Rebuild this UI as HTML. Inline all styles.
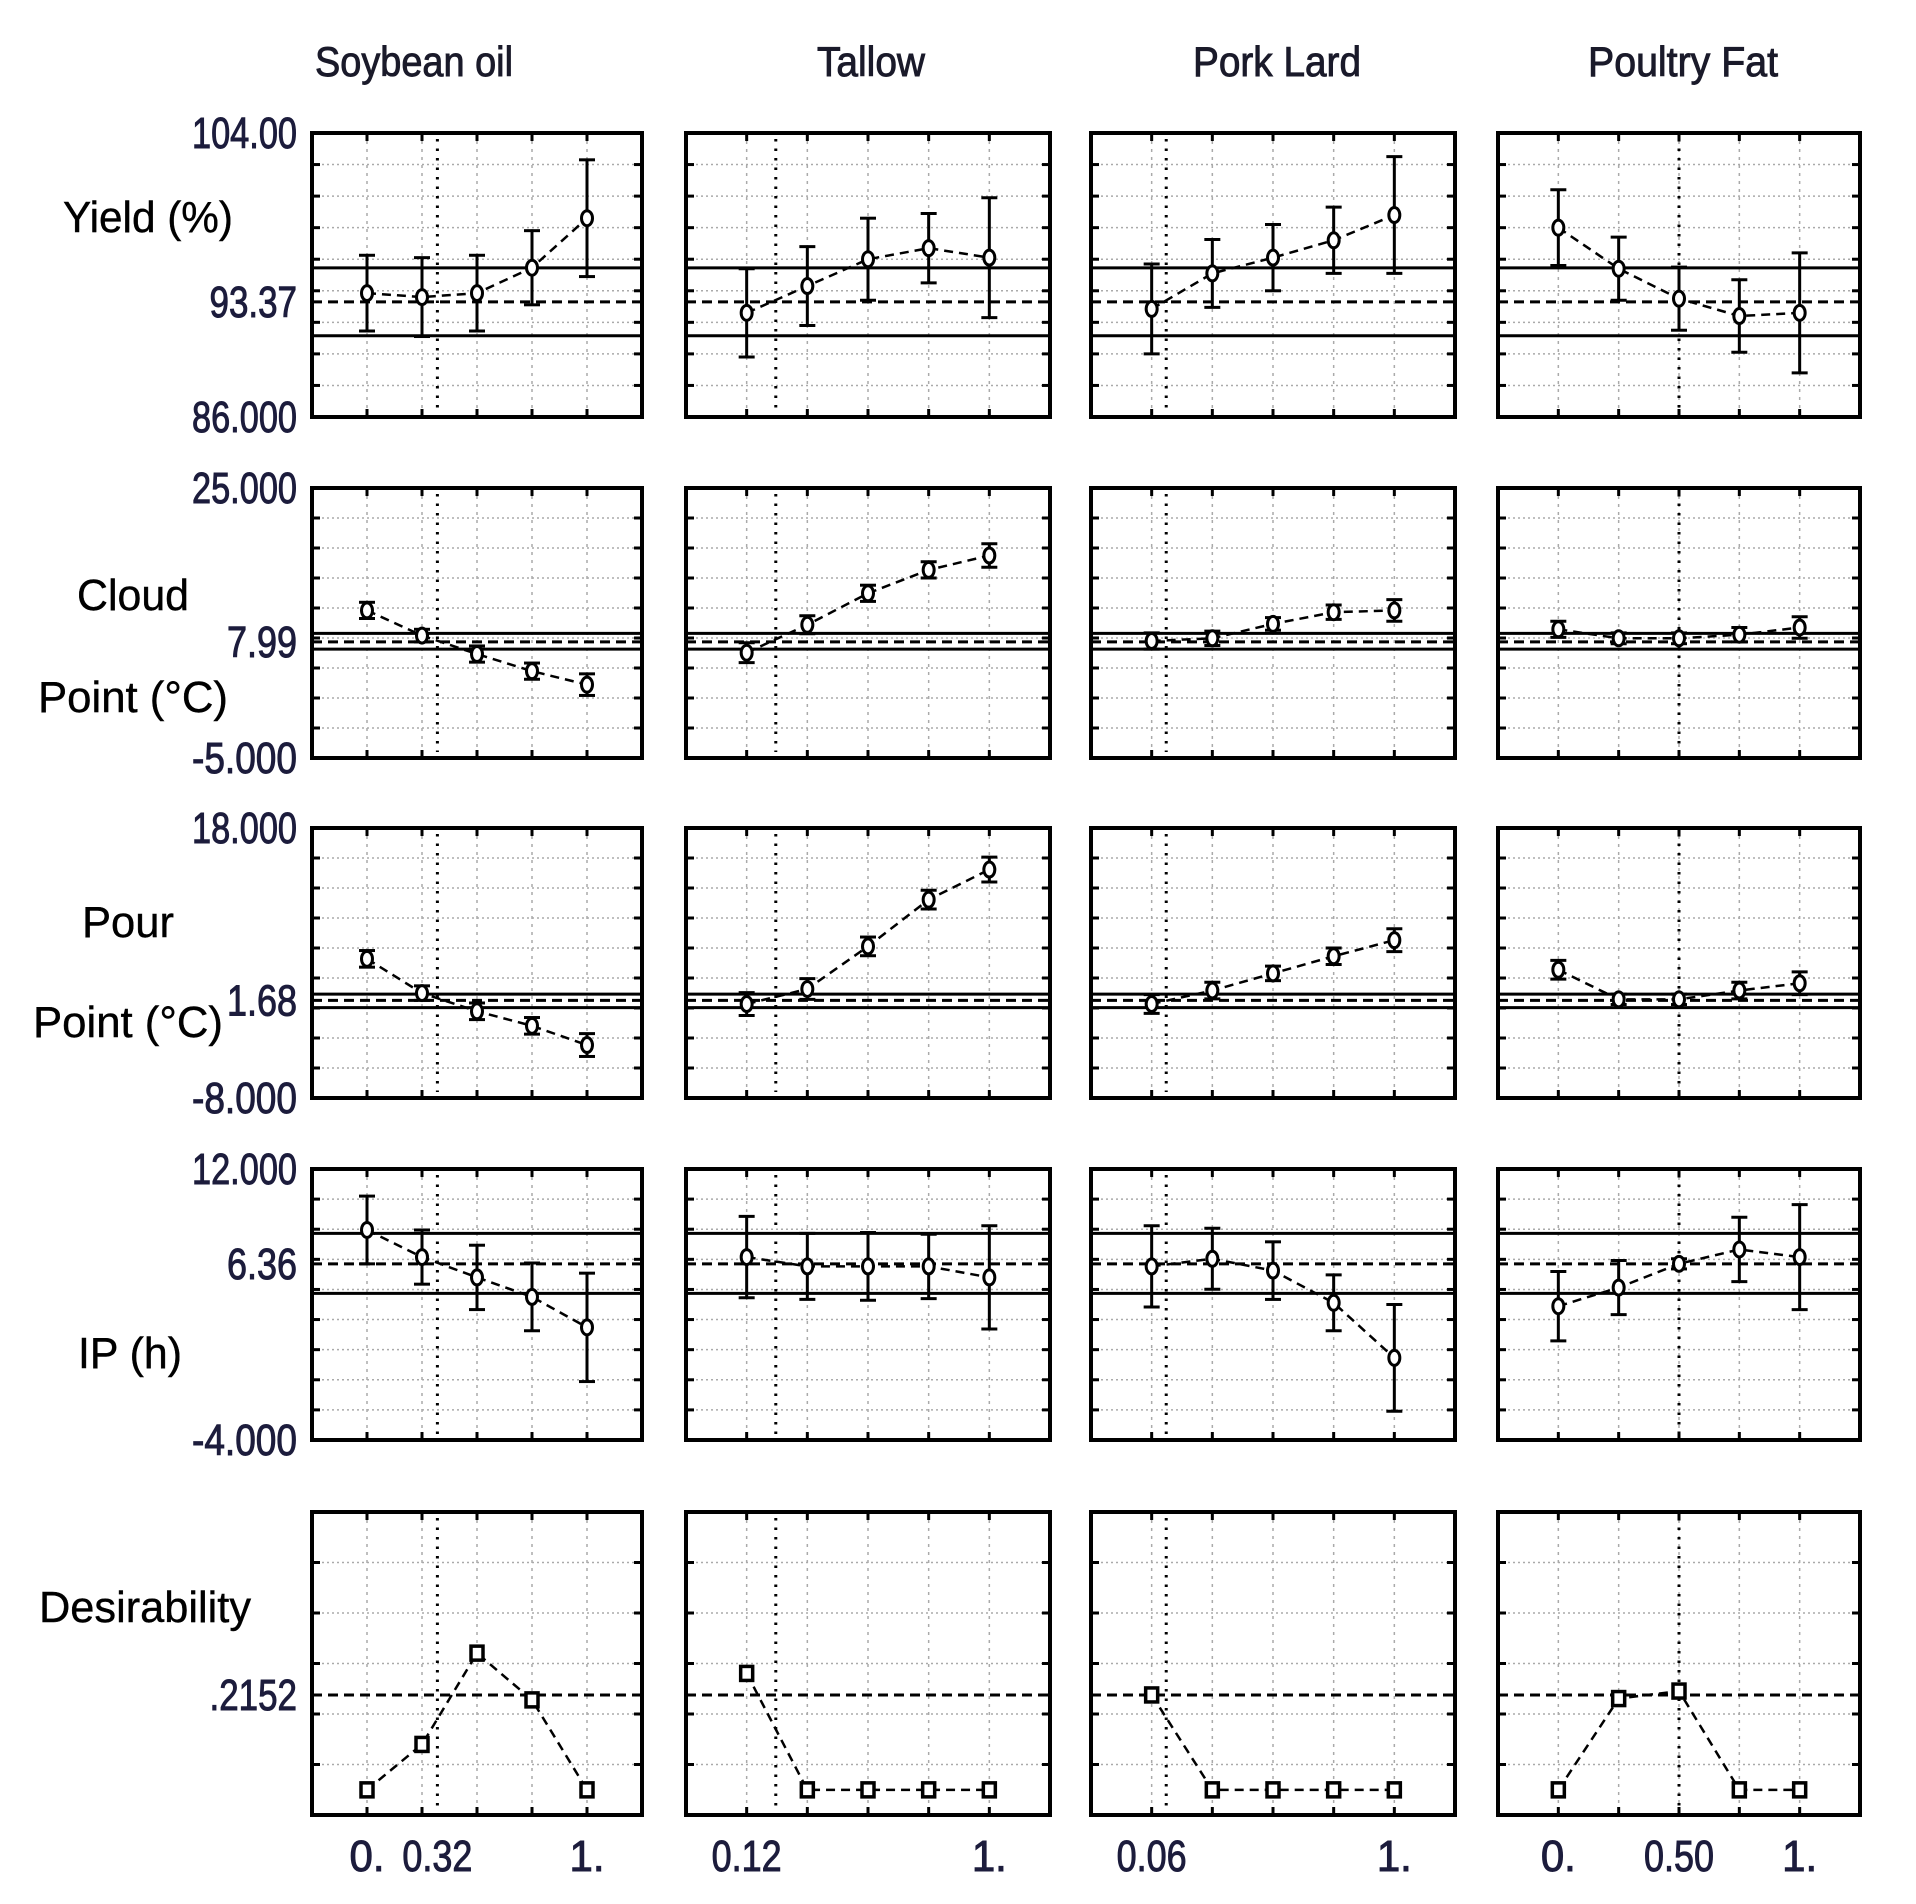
<!DOCTYPE html>
<html><head><meta charset="utf-8"><style>
html,body{margin:0;padding:0;background:#fff;}
svg{display:block;}
text{font-family:"Liberation Sans",sans-serif;}
</style></head><body>
<svg id="chart" width="1916" height="1904" viewBox="0 0 1916 1904" xmlns="http://www.w3.org/2000/svg"></svg>
<script>
// ---- data ----
const columns = ["Soybean oil","Tallow","Pork Lard","Poultry Fat"];
const rowNames = ["yield","cloud-point","pour-point","ip","desirability"];
const currentPos = [0.32,0.12,0.06,0.5];
const xLabelsSoy = ["0.","0.32","1."];
const xLabelsTallow = ["0.12","1."];
const xLabelsPork = ["0.06","1."];
const xLabelsPoultry = ["0.","0.50","1."];
// yield
const yieldDomain = [86,104];
const yieldTicks = ["104.00","93.37","86.000"];
const yieldLimits = [95.45,91.15,93.3];
const yieldSoy = [93.85,93.6,93.85,95.46,98.6];
const yieldSoyErr = [2.4,2.5,2.4,2.35,3.7];
const yieldTallow = [92.6,94.3,96.0,96.7,96.1];
const yieldTallowErr = [2.8,2.5,2.6,2.2,3.8];
const yieldPork = [92.85,95.1,96.1,97.2,98.8];
const yieldPorkErr = [2.85,2.15,2.1,2.1,3.7];
const yieldPoultry = [98.0,95.4,93.5,92.4,92.6];
const yieldPoultryErr = [2.4,2.0,2.0,2.3,3.8];
// cloud point
const cloudDomain = [-5,25];
const cloudTicks = ["25.000","7.99","-5.000"];
const cloudLimits = [8.85,7.1,7.9];
const cloudSoy = [11.4,8.6,6.55,4.65,3.15];
const cloudSoyErr = [0.9,0.7,0.9,0.9,1.2];
const cloudTallow = [6.7,9.8,13.3,15.9,17.5];
const cloudTallowErr = [1.1,1.0,0.9,0.9,1.3];
const cloudPork = [8.0,8.3,9.9,11.2,11.4];
const cloudPorkErr = [0.9,0.8,0.7,0.8,1.2];
const cloudPoultry = [9.3,8.3,8.3,8.7,9.5];
const cloudPoultryErr = [0.9,0.6,0.6,0.8,1.2];
// pour point
const pourDomain = [-8,18];
const pourTicks = ["18.000","1.68","-8.000"];
const pourLimits = [2.0,0.7,1.4];
const pourSoy = [5.4,2.1,0.35,-1.05,-2.9];
const pourSoyErr = [0.8,0.7,0.8,0.8,1.1];
const pourTallow = [1.05,2.5,6.6,11.1,14.0];
const pourTallowErr = [1.1,1.0,0.9,0.9,1.2];
const pourPork = [1.05,2.35,4.0,5.65,7.2];
const pourPorkErr = [0.9,0.8,0.7,0.8,1.1];
const pourPoultry = [4.35,1.5,1.5,2.35,3.05];
const pourPoultryErr = [0.9,0.5,0.5,0.8,1.1];
// IP
const ipDomain = [-4,12];
const ipTicks = ["12.000","6.36","-4.000"];
const ipLimits = [8.2,4.66,6.4];
const ipSoy = [8.4,6.8,5.6,4.45,2.65];
const ipSoyErr = [2.0,1.6,1.9,2.0,3.2];
const ipTallow = [6.8,6.25,6.25,6.25,5.6];
const ipTallowErr = [2.4,1.95,2.0,1.9,3.05];
const ipPork = [6.25,6.7,6.0,4.1,0.85];
const ipPorkErr = [2.4,1.8,1.7,1.65,3.15];
const ipPoultry = [3.9,5.0,6.4,7.25,6.8];
const ipPoultryErr = [2.05,1.6,0.3,1.9,3.1];
// desirability
const desDomain = [-0.057,0.63];
const desTicks = [".2152"];
const desMean = 0.2152;
const desSoy = [0,0.103,0.31,0.204,0];
const desTallow = [0.264,0,0,0,0];
const desPork = [0.2152,0,0,0,0];
const desPoultry = [0,0.207,0.224,0,0];
const levels = [0,0.25,0.5,0.75,1];

// ---- layout ----
const NS="http://www.w3.org/2000/svg";
const svg=document.getElementById('chart');
const colX=[[312,642],[686,1050],[1091,1455],[1498,1860]];
const rowY=[[133,417],[488,758],[828,1098],[1169,1440],[1512,1815]];
function mk(tag,attrs,parent){const e=document.createElementNS(NS,tag);for(const k in attrs)e.setAttribute(k,attrs[k]);(parent||svg).appendChild(e);return e;}
function xs(c,v){const [a,b]=colX[c];return a+(b-a)*(v+0.25)/1.5;}
function ysF(r,dom){const [t,b]=rowY[r];return v=>b-(b-t)*(v-dom[0])/(dom[1]-dom[0]);}

const rows=[
 {dom:yieldDomain,ticks:yieldTicks,lim:yieldLimits,vals:[yieldSoy,yieldTallow,yieldPork,yieldPoultry],errs:[yieldSoyErr,yieldTallowErr,yieldPorkErr,yieldPoultryErr]},
 {dom:cloudDomain,ticks:cloudTicks,lim:cloudLimits,vals:[cloudSoy,cloudTallow,cloudPork,cloudPoultry],errs:[cloudSoyErr,cloudTallowErr,cloudPorkErr,cloudPoultryErr]},
 {dom:pourDomain,ticks:pourTicks,lim:pourLimits,vals:[pourSoy,pourTallow,pourPork,pourPoultry],errs:[pourSoyErr,pourTallowErr,pourPorkErr,pourPoultryErr]},
 {dom:ipDomain,ticks:ipTicks,lim:ipLimits,vals:[ipSoy,ipTallow,ipPork,ipPoultry],errs:[ipSoyErr,ipTallowErr,ipPorkErr,ipPoultryErr]},
 {dom:desDomain,ticks:desTicks,lim:null,vals:[desSoy,desTallow,desPork,desPoultry],errs:null}
];

// column titles
const titleX=[414,871,1277,1683], titleW=[198,108,168,190];
columns.forEach((c,i)=>{
 const t=mk('text',{x:titleX[i],y:76,'text-anchor':'middle','font-size':42,fill:'#1a1a2a',stroke:'#1a1a2a','stroke-width':0.9,textLength:titleW[i],lengthAdjust:'spacingAndGlyphs'});
 
 
 t.textContent=c;
});
// row titles
const rowLabels=[["Yield (%)",148,232,170],["Cloud",133,610,112],["Point (°C)",133,712,190],["Pour",128,937,92],["Point (°C)",128,1037,190],["IP (h)",130,1368,104],["Desirability",145,1622,212]];
rowLabels.forEach((r,i)=>{
 const t=mk('text',{x:r[1],y:r[2],'text-anchor':'middle','font-size':44,fill:'#000',stroke:'#000','stroke-width':0.4,textLength:r[3],lengthAdjust:'spacingAndGlyphs'});
 
 
 t.textContent=r[0];
});

rows.forEach((row,r)=>{
 const Y=ysF(r,row.dom);
 const [top,bot]=rowY[r];
 const ndiv = r===4?6:9;
 let tickY, tickT;
 if(r===4){tickY=[Y(desMean)];tickT=row.ticks;}
 else{tickY=[top,Y(row.lim[2]),bot];tickT=row.ticks;}
 tickT.forEach((s,k)=>{
  const t=mk('text',{x:297,y:tickY[k]+15,'text-anchor':'end','font-size':44,fill:'#1c1c3c',stroke:'#1c1c3c','stroke-width':1,textLength:s.length*17.5,lengthAdjust:'spacingAndGlyphs'});
  
  
  t.textContent=s;
 });
 for(let c=0;c<4;c++){
  const [l,rr]=colX[c];
  const g=mk('g',{});
  
  
  for(let k=1;k<ndiv;k++){
   const y=top+(bot-top)*k/ndiv;
   mk('line',{x1:l,x2:rr,y1:y,y2:y,stroke:'#aaa','stroke-width':1.5,'stroke-dasharray':'2 3'},g);
   mk('line',{x1:l,x2:l+8,y1:y,y2:y,stroke:'#000','stroke-width':3},g);
   mk('line',{x1:rr-8,x2:rr,y1:y,y2:y,stroke:'#000','stroke-width':3},g);
  }
  levels.forEach(v=>{
   const x=xs(c,v);
   mk('line',{x1:x,x2:x,y1:top,y2:bot,stroke:'#aaa','stroke-width':1.5,'stroke-dasharray':'3 5'},g);
   mk('line',{x1:x,x2:x,y1:top,y2:top+8,stroke:'#000','stroke-width':3},g);
   mk('line',{x1:x,x2:x,y1:bot-8,y2:bot,stroke:'#000','stroke-width':3},g);
  });
  const cx=xs(c,currentPos[c]);
  mk('line',{x1:cx,x2:cx,y1:top+6,y2:bot-6,stroke:'#000','stroke-width':3,'stroke-dasharray':'2.5 7'},g);
  if(row.lim){
   [0,1].forEach(k=>mk('line',{x1:l,x2:rr,y1:Y(row.lim[k]),y2:Y(row.lim[k]),stroke:'#000','stroke-width':3},g));
   mk('line',{x1:l,x2:rr,y1:Y(row.lim[2]),y2:Y(row.lim[2]),stroke:'#000','stroke-width':3,'stroke-dasharray':'10 6'},g);
  } else {
   mk('line',{x1:l,x2:rr,y1:Y(desMean),y2:Y(desMean),stroke:'#000','stroke-width':3,'stroke-dasharray':'10 6'},g);
  }
  const vals=row.vals[c];
  const pts=vals.map((v,i)=>xs(c,levels[i])+','+Y(v)).join(' ');
  const pl=mk('polyline',{points:pts,fill:'none',stroke:'#000','stroke-width':2.5,'stroke-dasharray':'9 6'},g);
  
  
  vals.forEach((v,i)=>{
   const x=xs(c,levels[i]), y=Y(v);
   if(row.errs){
    const e=row.errs[c][i];
    const eb=mk('g',{},g);
    
    
    mk('line',{x1:x,x2:x,y1:Y(v+e),y2:Y(v-e),stroke:'#000','stroke-width':3},eb);
    mk('line',{x1:x-8,x2:x+8,y1:Y(v+e),y2:Y(v+e),stroke:'#000','stroke-width':3},eb);
    mk('line',{x1:x-8,x2:x+8,y1:Y(v-e),y2:Y(v-e),stroke:'#000','stroke-width':3},eb);
    const m=mk('ellipse',{cx:x,cy:y,rx:5.5,ry:7.5,fill:'#fff',stroke:'#000','stroke-width':3},g);
    
    
   } else {
    const m=mk('rect',{x:x-6,y:y-7,width:12,height:14,fill:'#fff',stroke:'#000','stroke-width':3.5},g);
    
    
   }
  });
  mk('rect',{x:l,y:top,width:rr-l,height:bot-top,fill:'none',stroke:'#000','stroke-width':4},g);
 }
});

const xlab=[[xLabelsSoy,[0,0.32,1]],[xLabelsTallow,[0,1]],[xLabelsPork,[0,1]],[xLabelsPoultry,[0,0.5,1]]];
xlab.forEach((p,c)=>{
 p[0].forEach((s,k)=>{
  const t=mk('text',{x:xs(c,p[1][k]),y:1871,'text-anchor':'middle','font-size':44,fill:'#1c1c3c',stroke:'#1c1c3c','stroke-width':1,textLength:s.length*17.5,lengthAdjust:'spacingAndGlyphs'});
  
  
  t.textContent=s;
 });
});
</script>
</body></html>
